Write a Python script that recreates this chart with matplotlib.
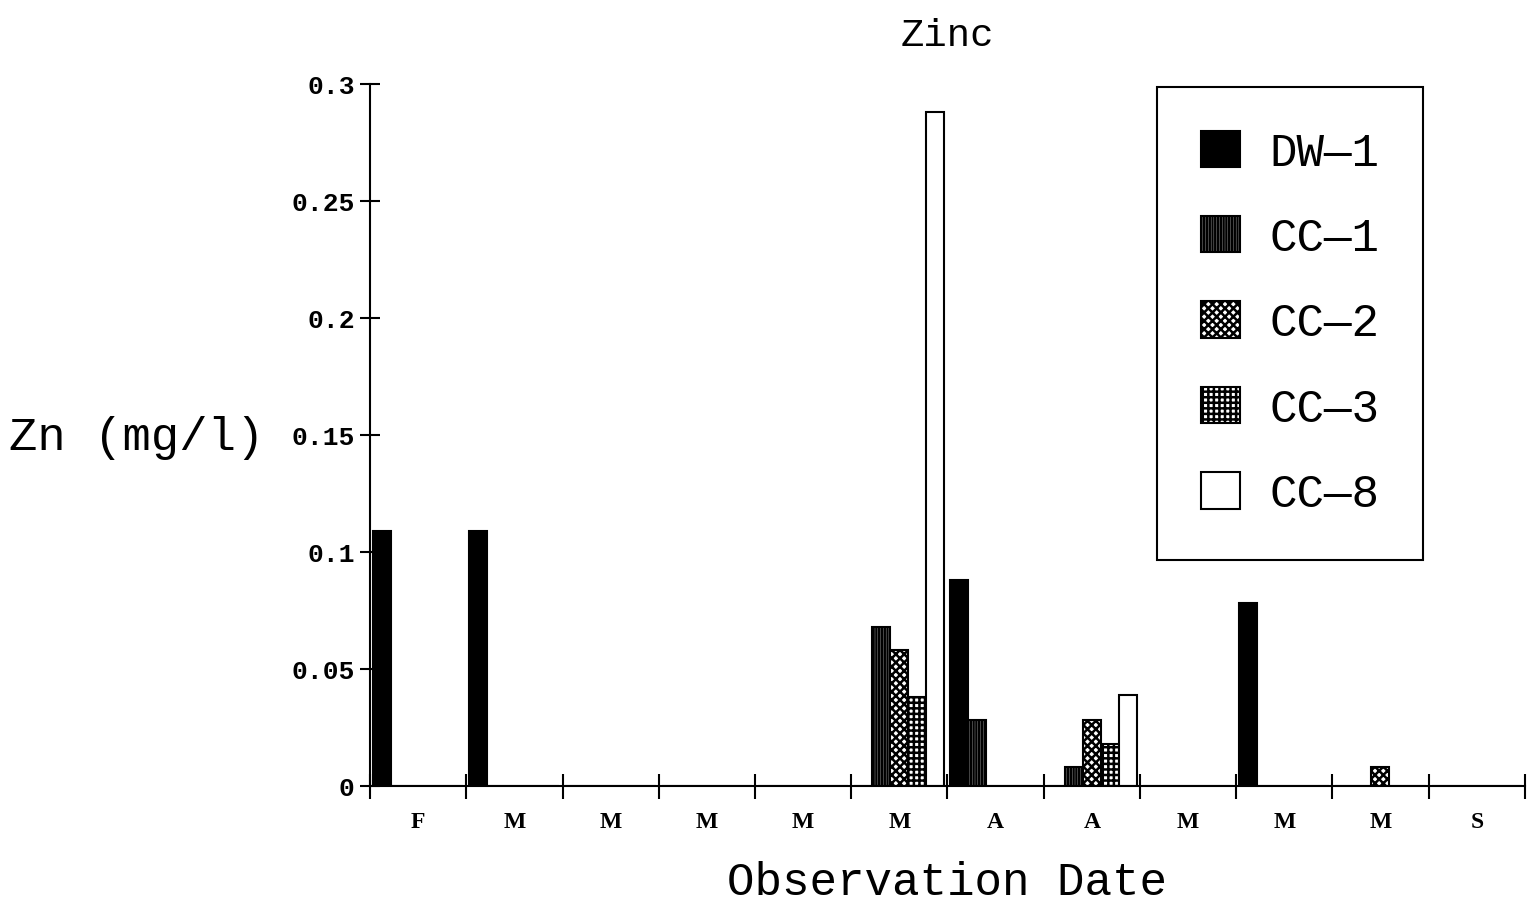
import numpy as np
import matplotlib
matplotlib.use("Agg")
import matplotlib.pyplot as plt

# 观测日期（月份首字母）
months = ['F', 'M', 'M', 'M', 'M', 'M', 'A', 'A', 'M', 'M', 'M', 'S']
series = ['DW—1', 'CC—1', 'CC—2', 'CC—3', 'CC—8']

# Zn (mg/l) for each well, one value per observation date
dw1 = [0.109, 0.109, 0, 0, 0, 0, 0.088, 0, 0, 0.078, 0, 0]
cc1 = [0, 0, 0, 0, 0, 0.068, 0.028, 0.008, 0, 0, 0, 0]
cc2 = [0, 0, 0, 0, 0, 0.058, 0, 0.028, 0, 0, 0.008, 0]
cc3 = [0, 0, 0, 0, 0, 0.038, 0, 0.018, 0, 0, 0, 0]
cc8 = [0, 0, 0, 0, 0, 0.288, 0, 0.039, 0, 0, 0, 0]

values = [dw1, cc1, cc2, cc3, cc8]
faces = ['black', 'white', 'white', 'white', 'white']
hatches = [None, '||||||', 'xxxx', '+++', None]

plt.rcParams['hatch.linewidth'] = 1.8
mono = 'Liberation Mono'

fig = plt.figure(figsize=(15.38, 9.03), dpi=100)
ax = fig.add_axes([0.2406, 0.1285, 0.7509, 0.7774])

x = np.arange(len(months))
w = 0.1875
for k, vals in enumerate(values):
    ax.bar(x + 0.03 + w * k, vals, width=w, align='edge',
           color=faces[k], edgecolor='black', hatch=hatches[k],
           linewidth=1.5, label=series[k])

ax.set_xlim(0, 12)
ax.set_ylim(0, 0.3)
ax.spines['top'].set_visible(False)
ax.spines['right'].set_visible(False)
ax.spines['left'].set_linewidth(1.5)
ax.spines['bottom'].set_linewidth(1.5)

# 刻度
ax.set_yticks([0, 0.05, 0.1, 0.15, 0.2, 0.25, 0.3])
ax.set_yticklabels(['0', '0.05', '0.1', '0.15', '0.2', '0.25', '0.3'],
                   fontfamily=mono, fontweight='bold', fontsize=19)
ax.tick_params(axis='y', direction='inout', length=14, width=1.5, pad=4)

ax.set_xticks(np.arange(13))
ax.set_xticklabels([])
ax.tick_params(axis='x', which='major', direction='inout', length=18, width=1.5)
ax.set_xticks(x + 0.5, minor=True)
ax.set_xticklabels(months, minor=True, fontfamily='Liberation Serif',
                   fontweight='bold', fontsize=17)
ax.tick_params(axis='x', which='minor', length=0, pad=18)

ax.set_title('Zinc', fontfamily=mono, fontsize=28, pad=28)
ax.set_xlabel('Observation Date', fontfamily=mono, fontsize=33, labelpad=20)
fig.text(0.006, 0.515, 'Zn (mg/l)', fontfamily=mono, fontsize=34,
         ha='left', va='center')

leg = ax.legend(loc='upper left', bbox_to_anchor=(1157 / 1538, 1 - 88 / 903),
                bbox_transform=fig.transFigure, prop={'family': mono, 'size': 33},
                handlelength=0.85, handleheight=0.85, handletextpad=0.65,
                labelspacing=0.9, borderpad=0.95, borderaxespad=0,
                fancybox=False, framealpha=1)
leg.get_frame().set_edgecolor('black')
leg.get_frame().set_linewidth(1.5)

fig.savefig('out.png', dpi=100)
